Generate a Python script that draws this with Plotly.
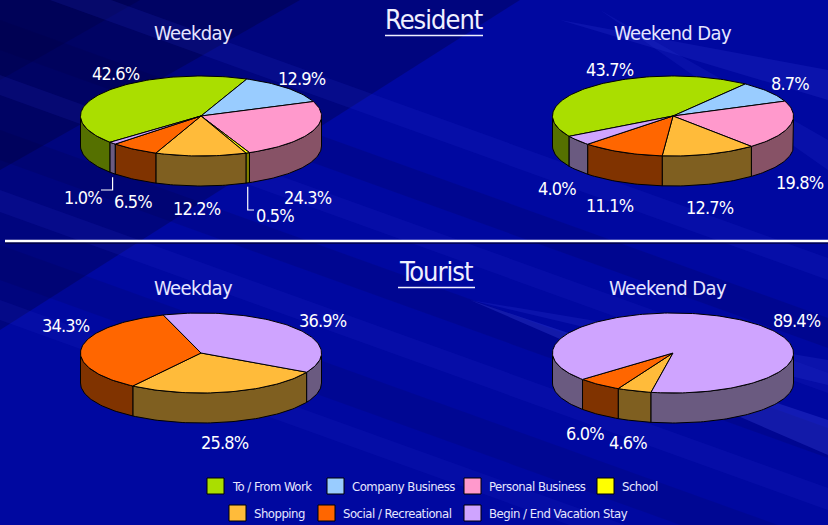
import numpy as np
import plotly.graph_objects as go

# ---------------- data ----------------
categories = ["To / From Work", "Company Business", "Personal Business", "School",
              "Shopping", "Social / Recreational", "Begin / End Vacation Stay"]
resident_weekday = [42.6, 12.9, 24.3, 0.5, 12.2, 6.5, 1.0]
resident_weekend = [43.7, 8.7, 19.8, 0.0, 12.7, 11.1, 4.0]
tourist_weekday = [0.0, 0.0, 0.0, 0.0, 25.8, 34.3, 36.9]
tourist_weekend = [0.0, 0.0, 0.0, 0.0, 4.6, 6.0, 89.4]
group_titles = ["Resident", "Tourist"]
chart_titles = ["Weekday", "Weekend Day", "Weekday", "Weekend Day"]

# ---------------- style ----------------
top_colors = ["#aade00", "#99ccff", "#ff99cc", "#ffff00", "#ffbb3a", "#ff6600", "#cfa4ff"]
side_colors = ["#557000", "#4d6680", "#875266", "#808000", "#7f5f20", "#803300", "#6a5a80"]
W, H = 828, 525
RX, RY, DEPTH = 120.5, 40.0, 30.0
FONT = "DejaVu Sans Condensed, Liberation Sans Narrow, Arial Narrow, sans-serif"

charts = [
    dict(values=resident_weekday, cx=201, cy=116, start=221, title_xy=(193, 33),
         label_xy=[(116, 73), (302, 78), (308, 197), (275, 215), (197, 208), (133, 201), (83, 197)]),
    dict(values=resident_weekend, cx=673, cy=116, start=210.5, title_xy=(673, 33),
         label_xy=[(610, 69), (790, 83), (800, 182), None, (710, 207), (610, 205), (557, 188)]),
    dict(values=tourist_weekday, cx=201, cy=353, start=331.3, title_xy=(193, 288),
         label_xy=[None, None, None, None, (225, 442), (66, 325), (323, 320)]),
    dict(values=tourist_weekend, cx=673, cy=353, start=259.5, title_xy=(668, 288),
         label_xy=[None, None, None, None, (628, 442), (585, 433), (797, 320)]),
]
# leader lines: (chart index, category index, elbow y, end x)
leaders = [(0, 6, 190, 101), (0, 3, 210, 254)]

legend_pos = [(207, 486), (327, 486), (464, 486), (597, 486),
              (229, 513), (318, 513), (464, 513)]


def styled(text, spacing):
    return f'<span style="letter-spacing:{spacing}px">{text}</span>'


def arc(cx, cy, a, b, n=None, dy=0.0):
    if n is None:
        n = max(3, int(abs(b - a) / 1.5) + 2)
    t = np.radians(np.linspace(a, b, n))
    return list(cx + RX * np.cos(t)), list(cy - RY * np.sin(t) + dy)


fig = go.Figure()

side_traces = []
top_traces = []
for ch in charts:
    vals = ch["values"]
    total = float(sum(vals))
    s = ch["start"]
    ch["mids"] = []
    for i, v in enumerate(vals):
        span = v / total * 360.0
        e = s - span
        ch["mids"].append((s + e) / 2)
        if v > 0:
            ax, ay = arc(ch["cx"], ch["cy"], s, e)
            top_traces.append(go.Scatter(
                x=[ch["cx"]] + ax + [ch["cx"]], y=[ch["cy"]] + ay + [ch["cy"]],
                mode="lines", fill="toself", fillcolor=top_colors[i],
                line=dict(color="black", width=1), hoverinfo="skip", showlegend=False))
            for k in range(-2, 3):
                lo = max(e, 180 + 360 * k)
                hi = min(s, 360 + 360 * k)
                if hi > lo:
                    tx, ty = arc(ch["cx"], ch["cy"], lo, hi)
                    bx, by = arc(ch["cx"], ch["cy"], hi, lo, dy=DEPTH)
                    side_traces.append(go.Scatter(
                        x=tx + bx + [tx[0]], y=ty + by + [ty[0]],
                        mode="lines", fill="toself", fillcolor=side_colors[i],
                        line=dict(color="black", width=1), hoverinfo="skip", showlegend=False))
        s = e

for t in side_traces + top_traces:
    fig.add_trace(t)

for ci, k, ey, ex in leaders:
    ch = charts[ci]
    m = np.radians(ch["mids"][k])
    lx = ch["cx"] + RX * np.cos(m)
    ly = ch["cy"] - RY * np.sin(m) + DEPTH + 4
    fig.add_trace(go.Scatter(x=[lx, lx, ex], y=[ly, ey, ey], mode="lines",
                             line=dict(color="white", width=1.2),
                             hoverinfo="skip", showlegend=False))

annotations = []
for ci, ch in enumerate(charts):
    for i, v in enumerate(ch["values"]):
        if v > 0 and ch["label_xy"][i] is not None:
            x, y = ch["label_xy"][i]
            annotations.append(dict(x=x, y=y, xref="x", yref="y", text=styled(f"{v:.1f}%", -0.8),
                                    showarrow=False, font=dict(family=FONT, size=18, color="white")))
    tx, ty = ch["title_xy"]
    annotations.append(dict(x=tx, y=ty, xref="x", yref="y", text=styled(chart_titles[ci], -0.6),
                            showarrow=False, font=dict(family=FONT, size=20, color="#e6e6ff")))

annotations.append(dict(x=434, y=19, xref="x", yref="y", text=styled(group_titles[0], -1.0),
                        showarrow=False, font=dict(family=FONT, size=27, color="#f0f0ff")))
annotations.append(dict(x=436, y=271, xref="x", yref="y", text=styled(group_titles[1], -1.0),
                        showarrow=False, font=dict(family=FONT, size=27, color="#f0f0ff")))

shapes = []
# darker upper-left corner
for path, c in [("M0,0 L520,0 L0,330 Z", "rgba(0,0,40,0.28)"),
                ("M0,0 L300,0 L0,170 Z", "rgba(0,0,40,0.30)"),
                ("M0,0 L140,0 L0,80 Z", "rgba(0,0,40,0.20)")]:
    shapes.append(dict(type="path", xref="x", yref="y", layer="below", path=path,
                       fillcolor=c, line=dict(width=0)))
# subtle diagonal bands (slope down to the right)
bands = [
    (-40, 22, "rgba(40,50,210,0.16)"),
    (20, 30, "rgba(0,0,60,0.16)"),
    (75, 20, "rgba(40,50,210,0.14)"),
    (130, 30, "rgba(0,0,60,0.14)"),
    (190, 22, "rgba(40,50,210,0.14)"),
    (245, 35, "rgba(0,0,60,0.12)"),
    (300, 20, "rgba(40,50,210,0.12)"),
]
SLOPE = 0.36
for y0, h, c in bands:
    y1 = y0 + SLOPE * W
    shapes.append(dict(type="path", xref="x", yref="y", layer="below",
                       path=f"M0,{y0} L{W},{y1} L{W},{y1 + h} L0,{y0 + h} Z",
                       fillcolor=c, line=dict(width=0)))
# lighter rays
for path, c in [("M470,300 L828,420 L828,455 Z", "rgba(70,80,235,0.28)"),
                ("M470,300 L828,360 L828,385 Z", "rgba(60,70,230,0.18)"),
                ("M560,20 L828,70 L828,100 Z", "rgba(60,70,230,0.18)"),
                ("M600,10 L828,140 L828,170 Z", "rgba(60,70,230,0.14)")]:
    shapes.append(dict(type="path", xref="x", yref="y", layer="below", path=path,
                       fillcolor=c, line=dict(width=0)))
# separator
shapes.append(dict(type="line", x0=5, x1=828, y0=243, y1=243, xref="x", yref="y",
                   line=dict(color="rgba(0,0,40,0.6)", width=2)))
shapes.append(dict(type="line", x0=5, x1=828, y0=241, y1=241, xref="x", yref="y",
                   line=dict(color="white", width=2.5)))
# underlines
shapes.append(dict(type="line", x0=385, x1=483, y0=35.5, y1=35.5, xref="x", yref="y",
                   line=dict(color="#f0f0ff", width=1.5)))
shapes.append(dict(type="line", x0=398, x1=475, y0=287.5, y1=287.5, xref="x", yref="y",
                   line=dict(color="#f0f0ff", width=1.5)))
# legend
for i, name in enumerate(categories):
    bx, by = legend_pos[i]
    shapes.append(dict(type="rect", x0=bx, x1=bx + 17, y0=by - 8, y1=by + 8, xref="x", yref="y",
                       fillcolor=top_colors[i], line=dict(color="black", width=1)))
    annotations.append(dict(x=bx + 23, y=by, xref="x", yref="y", text=styled(name, -0.5),
                            showarrow=False, xanchor="left",
                            font=dict(family=FONT, size=13, color="#e6e6ff")))

fig.update_layout(
    width=W, height=H, margin=dict(l=0, r=0, t=0, b=0),
    paper_bgcolor="#0008a0", plot_bgcolor="rgba(0,0,0,0)",
    xaxis=dict(range=[0, W], visible=False, fixedrange=True),
    yaxis=dict(range=[H, 0], visible=False, fixedrange=True),
    annotations=annotations, shapes=shapes, showlegend=False,
)

fig.write_html("out.html")
